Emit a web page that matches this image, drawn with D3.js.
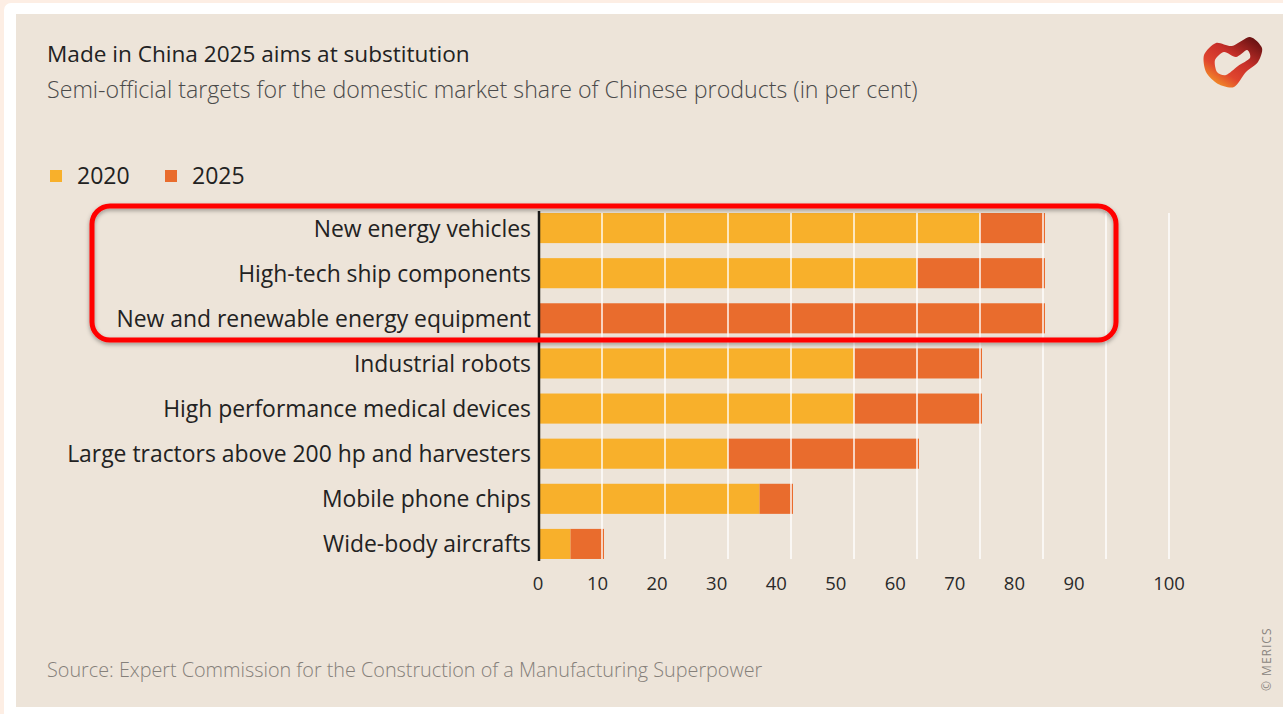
<!DOCTYPE html>
<html>
<head>
<meta charset="utf-8">
<script src="https://cdn.jsdelivr.net/npm/d3@7"></script>
<style>
  html, body { margin: 0; padding: 0; background: #fdeee4; }
  svg { display: block; }
  text { font-family: "Open Sans", "Noto Sans", sans-serif; }
</style>
</head>
<body>
<svg id="chart" width="1283" height="714"></svg>
<script>
// data
const categories = [
  "New energy vehicles",
  "High-tech ship components",
  "New and renewable energy equipment",
  "Industrial robots",
  "High performance medical devices",
  "Large tractors above 200 hp and harvesters",
  "Mobile phone chips",
  "Wide-body aircrafts"
];
const share2020 = [70, 60, 0, 50, 50, 30, 35, 5];
const share2025 = [80, 80, 80, 70, 70, 60, 40, 10];
const tickValues = [0, 10, 20, 30, 40, 50, 60, 70, 80, 90, 100];
const seriesNames = ["2020", "2025"];
const seriesColors = ["#f8b02b", "#e96c2d"];

const svg = d3.select("#chart");

// frame + panel
svg.append("rect")
    .attr("x", 4).attr("y", 3)
    .attr("width", 1300).attr("height", 720)
    .attr("rx", 7)
    .attr("fill", "#ffffff");
svg.append("rect")
    .attr("x", 16).attr("y", 14)
    .attr("width", 1267).attr("height", 693)
    .attr("fill", "#ede4d9");

// titles
svg.append("text")
    .attr("x", 47).attr("y", 62)
    .attr("font-size", 22.6)
    .attr("fill", "#222")
    .text("Made in China 2025 aims at substitution");
svg.append("text")
    .attr("x", 47).attr("y", 98)
    .attr("font-size", 23.2)
    .attr("font-weight", 300)
    .attr("fill", "#4a4a4a")
    .text("Semi-official targets for the domestic market share of Chinese products (in per cent)");

// legend
const legend = svg.append("g").attr("class", "legend");
const legendX = [50, 165];
seriesNames.forEach(function (name, i) {
    legend.append("rect")
        .attr("x", legendX[i]).attr("y", 170)
        .attr("width", 12).attr("height", 12)
        .attr("fill", seriesColors[i]);
    legend.append("text")
        .attr("x", legendX[i] + 27).attr("y", 184)
        .attr("font-size", 23)
        .attr("fill", "#222")
        .text(name);
});

// scales
const x = d3.scaleLinear().domain([0, 100]).range([539, 1169]);
// the printed tick labels 0..90 sit on a slightly tighter spacing than the grid
const xLabel = d3.scaleLinear().domain([0, 90]).range([538, 1074]);
const y = d3.scaleBand()
    .domain(categories)
    .range([205.5, 566.5])
    .paddingInner(1 / 3)
    .paddingOuter(1 / 6);

const rows = categories.map(function (c, i) {
    return {name: c, v2020: share2020[i], v2025: share2025[i]};
});

// bars
const bars = svg.append("g").attr("class", "bars");
bars.selectAll(".bar2020")
    .data(rows.filter(d => d.v2020 > 0))
    .enter().append("rect")
    .attr("class", "bar2020")
    .attr("x", x(0))
    .attr("y", d => y(d.name))
    .attr("width", d => x(d.v2020) - x(0))
    .attr("height", y.bandwidth())
    .attr("fill", seriesColors[0]);
bars.selectAll(".bar2025")
    .data(rows)
    .enter().append("rect")
    .attr("class", "bar2025")
    .attr("x", d => x(d.v2020))
    .attr("y", d => y(d.name))
    .attr("width", d => x(d.v2025) - x(d.v2020) + 2)
    .attr("height", y.bandwidth())
    .attr("fill", seriesColors[1]);

// grid lines over the bars
const gridTop = y(categories[0]);
const gridBottom = y(categories[categories.length - 1]) + y.bandwidth();
svg.append("g").attr("class", "grid")
    .selectAll("line")
    .data(tickValues.filter(d => d > 0))
    .enter().append("line")
    .attr("x1", d => x(d)).attr("x2", d => x(d))
    .attr("y1", gridTop).attr("y2", gridBottom)
    .attr("stroke", "#ffffff")
    .attr("stroke-opacity", 0.7)
    .attr("stroke-width", 2);

// zero axis
svg.append("line")
    .attr("x1", x(0)).attr("x2", x(0))
    .attr("y1", gridTop - 2).attr("y2", gridBottom + 2)
    .attr("stroke", "#1a1a1a")
    .attr("stroke-width", 2.5);

// category labels
svg.append("g").attr("class", "labels")
    .selectAll("text")
    .data(categories)
    .enter().append("text")
    .attr("x", x(0) - 8)
    .attr("y", d => y(d) + y.bandwidth() / 2 + 8.5)
    .attr("text-anchor", "end")
    .attr("font-size", 22.9)
    .attr("fill", "#222")
    .text(d => d);

// tick labels
svg.append("g").attr("class", "ticks")
    .selectAll("text")
    .data(tickValues)
    .enter().append("text")
    .attr("x", d => d === 100 ? x(d) : xLabel(d))
    .attr("y", 590)
    .attr("text-anchor", "middle")
    .attr("font-size", 18.5)
    .attr("fill", "#2a2a2a")
    .text(d => d);

// source + credit
svg.append("text")
    .attr("x", 47).attr("y", 677)
    .attr("font-size", 19.8)
    .attr("font-weight", 300)
    .attr("fill", "#85807a")
    .text("Source: Expert Commission for the Construction of a Manufacturing Superpower");
svg.append("text")
    .attr("transform", "translate(1271,691) rotate(-90)")
    .attr("font-size", 12)
    .attr("letter-spacing", 1)
    .attr("fill", "#8a8580")
    .text("© MERICS");

// logo blob
const defs = svg.append("defs");
const grad = defs.append("linearGradient")
    .attr("id", "logoGrad")
    .attr("x1", "0.9").attr("y1", "0.1").attr("x2", "0.2").attr("y2", "1");
grad.append("stop").attr("offset", "0%").attr("stop-color", "#6e1414");
grad.append("stop").attr("offset", "40%").attr("stop-color", "#c9302a");
grad.append("stop").attr("offset", "70%").attr("stop-color", "#e0452e");
grad.append("stop").attr("offset", "100%").attr("stop-color", "#f59a28");
const blob = d3.line().curve(d3.curveCardinalClosed.tension(0.2));
const outer = [[1204, 55], [1216, 43], [1232, 46], [1250, 37], [1262, 48], [1258, 62], [1246, 72], [1234, 87], [1218, 84], [1206, 72]];
const inner = [[1215, 60], [1224, 52], [1236, 57], [1247, 50], [1250, 58], [1238, 66], [1226, 75], [1217, 72]];
svg.append("path")
    .attr("d", blob(outer) + blob(inner))
    .attr("fill-rule", "evenodd")
    .attr("fill", "url(#logoGrad)");

// annotation box
const shadow = defs.append("filter").attr("id", "shadow")
    .attr("x", "-5%").attr("y", "-20%").attr("width", "110%").attr("height", "140%");
shadow.append("feDropShadow")
    .attr("dx", 0).attr("dy", 2).attr("stdDeviation", 2)
    .attr("flood-color", "#000").attr("flood-opacity", 0.35);
svg.append("rect")
    .attr("x", 92).attr("y", 206)
    .attr("width", 1024).attr("height", 134)
    .attr("rx", 18)
    .attr("fill", "none")
    .attr("stroke", "#ff0000")
    .attr("stroke-width", 5)
    .attr("filter", "url(#shadow)");
</script>
</body>
</html>
